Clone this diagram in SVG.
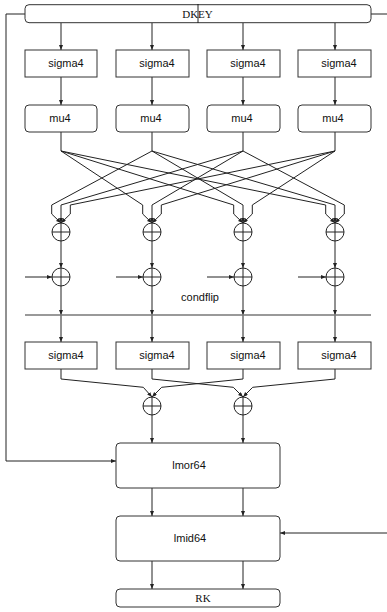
<svg xmlns="http://www.w3.org/2000/svg" width="387" height="612" viewBox="0 0 387 612">
<defs>
<marker id="ah" markerUnits="userSpaceOnUse" markerWidth="6" markerHeight="5" refX="5" refY="2" orient="auto">
<path d="M0,0 L5,2 L0,4 z" fill="#222"/>
</marker>
<style>
.box{fill:#fff;stroke:#333;stroke-width:1}
.ln{fill:none;stroke:#222;stroke-width:1}
.ar{fill:none;stroke:#222;stroke-width:1;marker-end:url(#ah)}
.sans{font-family:"Liberation Sans",Arial,sans-serif;font-size:11px;fill:#111;text-anchor:middle}
.serif{font-family:"Liberation Serif","Times New Roman",serif;font-size:11px;fill:#111;text-anchor:middle}
.xor{fill:#fff;stroke:#222;stroke-width:1}
</style>
</defs>
<rect width="387" height="612" fill="#fff"/>

<g id="connectors">
<!-- DKEY side lines -->
<polyline class="ln" points="25,14 6,14 6,461"/>
<line class="ar" x1="6" y1="461" x2="116" y2="461"/>
<line class="ln" x1="371" y1="14" x2="387" y2="14"/>
<line class="ar" x1="387" y1="533" x2="280" y2="533"/>
<line class="ln" x1="198" y1="4" x2="198" y2="23"/>
<!-- DKEY to sigma4 -->
<line class="ar" x1="61" y1="23" x2="61" y2="50"/>
<line class="ar" x1="152" y1="23" x2="152" y2="50"/>
<line class="ar" x1="243" y1="23" x2="243" y2="50"/>
<line class="ar" x1="335" y1="23" x2="335" y2="50"/>
<!-- sigma4 to mu4 -->
<line class="ar" x1="61" y1="77" x2="61" y2="105"/>
<line class="ar" x1="152" y1="77" x2="152" y2="105"/>
<line class="ar" x1="243" y1="77" x2="243" y2="105"/>
<line class="ar" x1="335" y1="77" x2="335" y2="105"/>
<!-- mu4 to split -->
<line class="ln" x1="61" y1="132" x2="61" y2="151"/>
<line class="ln" x1="152" y1="132" x2="152" y2="151"/>
<line class="ln" x1="243" y1="132" x2="243" y2="151"/>
<line class="ln" x1="335" y1="132" x2="335" y2="151"/>
<!-- node 1 (x=61): from 2,3,4 -->
<polyline class="ar" points="152,151 51.7,205 51.7,214 61,223"/>
<polyline class="ar" points="243,151 61,205 61,223"/>
<polyline class="ar" points="335,151 70.3,205 70.3,214 61,223"/>
<!-- node 2 (x=152): from 1,3,4 -->
<polyline class="ar" points="61,151 142.7,205 142.7,214 152,223"/>
<polyline class="ar" points="243,151 152,205 152,223"/>
<polyline class="ar" points="335,151 161.3,205 161.3,214 152,223"/>
<!-- node 3 (x=243): from 1,2,4 -->
<polyline class="ar" points="61,151 233.7,205 233.7,214 243,223"/>
<polyline class="ar" points="152,151 243,205 243,223"/>
<polyline class="ar" points="335,151 252.3,205 252.3,214 243,223"/>
<!-- node 4 (x=335): from 1,2,3 -->
<polyline class="ar" points="61,151 325.7,205 325.7,214 335,223"/>
<polyline class="ar" points="152,151 335,205 335,223"/>
<polyline class="ar" points="243,151 344.3,205 344.3,214 335,223"/>
<!-- xor1 to xor2 -->
<line class="ar" x1="61" y1="241" x2="61" y2="268"/>
<line class="ar" x1="152" y1="241" x2="152" y2="268"/>
<line class="ar" x1="243" y1="241" x2="243" y2="268"/>
<line class="ar" x1="335" y1="241" x2="335" y2="268"/>
<!-- side inputs -->
<line class="ar" x1="25" y1="277" x2="52" y2="277"/>
<line class="ar" x1="116" y1="277" x2="143" y2="277"/>
<line class="ar" x1="207" y1="277" x2="234" y2="277"/>
<line class="ar" x1="298" y1="277" x2="326" y2="277"/>
<!-- xor2 to condflip -->
<line class="ar" x1="61" y1="286" x2="61" y2="315"/>
<line class="ar" x1="152" y1="286" x2="152" y2="315"/>
<line class="ar" x1="243" y1="286" x2="243" y2="315"/>
<line class="ar" x1="335" y1="286" x2="335" y2="315"/>
<!-- condflip to sigma4 -->
<line class="ar" x1="61" y1="315" x2="61" y2="342"/>
<line class="ar" x1="152" y1="315" x2="152" y2="342"/>
<line class="ar" x1="243" y1="315" x2="243" y2="342"/>
<line class="ar" x1="335" y1="315" x2="335" y2="342"/>
<!-- sigma4 row 2 to final xors -->
<polyline class="ar" points="61,369 61,379 143.3,387.3 152,397"/>
<polyline class="ar" points="243,369 243,379 161.7,387.3 152,397"/>
<polyline class="ar" points="152,369 152,379 233.3,387.3 243,397"/>
<polyline class="ar" points="335,369 335,379 252.7,387.3 243,397"/>
<!-- xors to lmor64 -->
<line class="ar" x1="152" y1="415" x2="152" y2="443"/>
<line class="ar" x1="243" y1="415" x2="243" y2="443"/>
<!-- lmor64 to lmid64 -->
<line class="ar" x1="152" y1="488" x2="152" y2="516"/>
<line class="ar" x1="243" y1="488" x2="243" y2="516"/>
<!-- lmid64 to RK -->
<line class="ar" x1="152" y1="561" x2="152" y2="589"/>
<line class="ar" x1="243" y1="561" x2="243" y2="589"/>
</g>

<g id="condflip">
<line x1="25" y1="315" x2="371" y2="315" stroke="#777" stroke-width="1.3"/>
<text class="sans" x="200" y="301">condflip</text>
</g>

<g id="DKEY">
<rect class="box" x="25" y="4.7" width="346" height="18" rx="4"/>
<text class="serif" x="197.5" y="18">DKEY</text>
</g>
<line class="ln" x1="198" y1="4" x2="198" y2="23"/>

<g id="sigma4_1"><rect class="box" x="25" y="50" width="72" height="27"/><text class="sans" x="66" y="67">sigma4</text></g>
<g id="sigma4_2"><rect class="box" x="116" y="50" width="73" height="27"/><text class="sans" x="157" y="67">sigma4</text></g>
<g id="sigma4_3"><rect class="box" x="207" y="50" width="73" height="27"/><text class="sans" x="248" y="67">sigma4</text></g>
<g id="sigma4_4"><rect class="box" x="298" y="50" width="73" height="27"/><text class="sans" x="339" y="67">sigma4</text></g>

<g id="mu4_1"><rect class="box" x="25" y="105" width="72" height="27" rx="4"/><text class="sans" x="60" y="122">mu4</text></g>
<g id="mu4_2"><rect class="box" x="116" y="105" width="73" height="27" rx="4"/><text class="sans" x="151" y="122">mu4</text></g>
<g id="mu4_3"><rect class="box" x="207" y="105" width="73" height="27" rx="4"/><text class="sans" x="242" y="122">mu4</text></g>
<g id="mu4_4"><rect class="box" x="298" y="105" width="73" height="27" rx="4"/><text class="sans" x="333" y="122">mu4</text></g>

<g id="xor1_1"><circle class="xor" cx="61" cy="232" r="9"/><path class="ln" d="M52,232H70M61,223V241"/></g>
<g id="xor1_2"><circle class="xor" cx="152" cy="232" r="9"/><path class="ln" d="M143,232H161M152,223V241"/></g>
<g id="xor1_3"><circle class="xor" cx="243" cy="232" r="9"/><path class="ln" d="M234,232H252M243,223V241"/></g>
<g id="xor1_4"><circle class="xor" cx="335" cy="232" r="9"/><path class="ln" d="M326,232H344M335,223V241"/></g>

<g id="xor2_1"><circle class="xor" cx="61" cy="277" r="9"/><path class="ln" d="M52,277H70M61,268V286"/></g>
<g id="xor2_2"><circle class="xor" cx="152" cy="277" r="9"/><path class="ln" d="M143,277H161M152,268V286"/></g>
<g id="xor2_3"><circle class="xor" cx="243" cy="277" r="9"/><path class="ln" d="M234,277H252M243,268V286"/></g>
<g id="xor2_4"><circle class="xor" cx="335" cy="277" r="9"/><path class="ln" d="M326,277H344M335,268V286"/></g>

<g id="sigma4_5"><rect class="box" x="25" y="342" width="72" height="27"/><text class="sans" x="66" y="359">sigma4</text></g>
<g id="sigma4_6"><rect class="box" x="116" y="342" width="73" height="27"/><text class="sans" x="157" y="359">sigma4</text></g>
<g id="sigma4_7"><rect class="box" x="207" y="342" width="73" height="27"/><text class="sans" x="248" y="359">sigma4</text></g>
<g id="sigma4_8"><rect class="box" x="298" y="342" width="73" height="27"/><text class="sans" x="339" y="359">sigma4</text></g>

<g id="xor3_1"><circle class="xor" cx="152" cy="406" r="9"/><path class="ln" d="M143,406H161M152,397V415"/></g>
<g id="xor3_2"><circle class="xor" cx="243" cy="406" r="9"/><path class="ln" d="M234,406H252M243,397V415"/></g>

<g id="lmor64"><rect class="box" x="116" y="443" width="164" height="45" rx="4"/><text class="sans" x="189" y="469">lmor64</text></g>
<g id="lmid64"><rect class="box" x="116" y="516" width="164" height="45" rx="4"/><text class="sans" x="190" y="542">lmid64</text></g>
<g id="RK"><rect class="box" x="116" y="589" width="164" height="18" rx="4"/><text class="serif" x="203" y="602">RK</text></g>
</svg>
